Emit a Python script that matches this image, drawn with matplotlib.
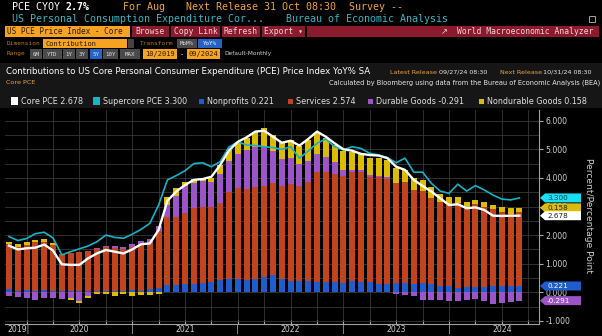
import matplotlib
matplotlib.use('Agg')
import matplotlib.pyplot as plt
import numpy as np
import pandas as pd
from matplotlib.patches import Rectangle, Polygon
from matplotlib.transforms import IdentityTransform, blended_transform_factory
from matplotlib import font_manager

# monthly data, Oct 2019 - Aug 2024 (contributions in percentage points)
months = pd.period_range('2019-10', '2024-08', freq='M')

nonprofits = [0.10, 0.06, 0.07, 0.05, 0.08, 0.06, 0.05, 0.06, 0.05, 0.04, 0.03, 0.03,
              0.03, 0.03, 0.08, 0.05, 0.10, 0.14, 0.26, 0.26, 0.28, 0.29, 0.34, 0.37,
              0.43, 0.47, 0.47, 0.43, 0.47, 0.52, 0.61, 0.47, 0.40, 0.40, 0.41, 0.37,
              0.37, 0.35, 0.31, 0.40, 0.37, 0.35, 0.28, 0.28, 0.31, 0.34, 0.28, 0.34,
              0.29, 0.22, 0.22, 0.16, 0.20, 0.20, 0.20, 0.23, 0.22, 0.23, 0.221]
services = [1.59, 1.54, 1.59, 1.70, 1.69, 1.60, 1.28, 1.33, 1.37, 1.42, 1.49, 1.54,
            1.53, 1.49, 1.52, 1.63, 1.64, 2.00, 2.37, 2.39, 2.51, 2.65, 2.66, 2.62,
            2.70, 3.05, 3.17, 3.17, 3.20, 3.19, 3.21, 3.25, 3.38, 3.30, 3.46, 3.82,
            3.82, 3.78, 3.76, 3.80, 3.85, 3.67, 3.74, 3.69, 3.50, 3.53, 3.30, 3.21,
            3.02, 2.93, 2.86, 2.95, 2.77, 2.88, 2.80, 2.67, 2.60, 2.51, 2.574]
durable = [-0.12, -0.17, -0.21, -0.26, -0.21, -0.21, -0.22, -0.20, -0.29, -0.14, 0.03, 0.05,
           0.06, 0.06, 0.09, 0.10, 0.14, 0.17, 0.43, 0.70, 0.91, 0.87, 0.89, 0.86,
           1.00, 1.08, 1.20, 1.38, 1.40, 1.38, 1.11, 0.93, 0.91, 0.78, 0.73, 0.64,
           0.55, 0.41, 0.21, 0.08, 0.06, 0.08, 0.06, 0.07, -0.05, -0.08, -0.14, -0.27,
           -0.26, -0.27, -0.29, -0.29, -0.26, -0.23, -0.29, -0.41, -0.37, -0.33, -0.291]
nondurable = [0.07, 0.08, 0.09, 0.08, 0.08, 0.08, -0.03, -0.07, -0.08, -0.07, -0.06, -0.06,
              -0.12, -0.06, -0.14, -0.08, -0.08, -0.07, 0.26, 0.29, 0.17, 0.14, 0.09, 0.16,
              0.31, 0.37, 0.43, 0.41, 0.55, 0.66, 0.58, 0.62, 0.64, 0.62, 0.72, 0.75,
              0.64, 0.62, 0.66, 0.61, 0.55, 0.61, 0.61, 0.58, 0.55, 0.41, 0.41, 0.36,
              0.36, 0.28, 0.24, 0.21, 0.20, 0.15, 0.15, 0.17, 0.17, 0.20, 0.158]
core_pce = [1.63, 1.50, 1.54, 1.56, 1.67, 1.46, 0.98, 0.96, 0.96, 1.19, 1.36, 1.48,
            1.42, 1.36, 1.50, 1.68, 1.71, 2.18, 3.20, 3.52, 3.75, 3.93, 3.96, 4.04,
            4.45, 4.96, 5.26, 5.42, 5.62, 5.65, 5.44, 5.23, 5.30, 5.13, 5.36, 5.62,
            5.44, 5.21, 5.00, 4.95, 4.84, 4.80, 4.78, 4.69, 4.39, 4.28, 3.93, 3.72,
            3.52, 3.29, 3.05, 3.08, 2.94, 2.97, 2.88, 2.68, 2.67, 2.68, 2.678]
supercore = [1.95, 1.81, 1.88, 2.05, 2.10, 1.90, 1.31, 1.42, 1.52, 1.62, 1.77, 2.00,
             1.92, 1.89, 2.03, 2.20, 2.41, 3.05, 3.93, 4.08, 4.25, 4.50, 4.53, 4.39,
             4.57, 5.08, 5.26, 5.15, 5.13, 5.09, 5.06, 5.00, 5.09, 4.69, 4.94, 5.21,
             5.36, 5.09, 4.98, 5.09, 5.03, 4.86, 4.80, 4.71, 4.53, 4.69, 4.20, 4.20,
             3.81, 3.54, 3.46, 3.78, 3.54, 3.73, 3.58, 3.40, 3.26, 3.23, 3.300]

C_NP, C_SV, C_DG, C_ND = '#1f5ccc', '#c2441e', '#9b55c9', '#dcbc00'
C_CORE, C_SUPER = 'white', '#17b3c6'
ORANGE, TEAL, BTN = '#eea43a', '#38b6c4', '#8a1a2c'

avail = {f.name for f in font_manager.fontManager.ttflist}
SANS = 'Liberation Sans Narrow' if 'Liberation Sans Narrow' in avail else 'DejaVu Sans'
S = 1.3 if SANS == 'Liberation Sans Narrow' else 1.0
MONO = ['DejaVu Sans Mono', 'DejaVu Sans']

W, H = 602, 336
fig = plt.figure(figsize=(W / 100, H / 100), dpi=100, facecolor='black')


def fx(x):
    return x / W


def fy(y):
    return 1 - y / H


def box(x0, y0, x1, y1, fc, z=-1):
    fig.add_artist(Rectangle((fx(x0), fy(y1)), (x1 - x0) / W, (y1 - y0) / H,
                             transform=fig.transFigure, fc=fc, ec='none', zorder=z))


def txt(x, y, s, c='white', size=5.8, ha='left', fam=None, **kw):
    return fig.text(fx(x), fy(y), s, color=c, fontsize=size, ha=ha, va='center',
                    family=fam or MONO, **kw)


def fit(t, width):
    r = fig.canvas.get_renderer()
    w = t.get_window_extent(r).width
    t.set_fontsize(t.get_fontsize() * width / w)


# ---- terminal header
txt(12, 7, 'PCE CYOY', size=7.2)
txt(66, 7, '2.7%', size=7.2, weight='bold')
txt(123, 7, 'For Aug', ORANGE, 7.2)
txt(186, 7, 'Next Release 31 Oct 08:30', ORANGE, 7.2)
txt(349, 7, 'Survey --', ORANGE, 7.2)
txt(12, 19, 'US Personal Consumption Expenditure Cor...', TEAL, 7.2)
txt(286, 19, 'Bureau of Economic Analysis', TEAL, 7.2)
fig.add_artist(Rectangle((fx(589), fy(22)), 6 / W, 6 / H, transform=fig.transFigure,
                         fc='none', ec='#bbbbbb', lw=0.6))

box(5, 26, 130, 37, '#f5a321')
txt(7, 31.5, 'US PCE Price Index - Core', '#2a1a00', 5.6)
for x0, x1, lab in [(132, 169, 'Browse'), (171, 220, 'Copy Link'),
                    (222, 260, 'Refresh'), (262, 305, 'Export \u25be')]:
    box(x0, 26, x1, 37, BTN)
    txt((x0 + x1) / 2, 31.5, lab, '#f4d4d8', 5.8, ha='center')
box(307, 26, 599, 37, BTN)
txt(441, 31.5, '\u2197', '#f4d4d8', 6, fam=['DejaVu Sans'])
txt(457, 31.5, 'World Macroeconomic Analyzer', '#f4d4d8', 5.8)

txt(7, 43.5, 'Dimension', '#c07a12', 4.4)
box(43, 39, 127, 48, '#f5a321')
txt(45, 43.5, 'Contribution', '#2a1a00', 5.0)
box(128, 39, 134, 48, '#444444')
txt(140, 43.5, 'Transform', '#c07a12', 4.4)
box(177, 39, 197, 48, '#4a4a4a')
txt(187, 43.5, 'MoM%', '#d8d8d8', 4.2, ha='center')
box(198, 39, 222, 48, '#2462c4')
txt(210, 43.5, 'YoY%', 'white', 4.2, ha='center')

txt(7, 54, 'Range', '#c07a12', 4.4)
for x0, x1, lab in [(30, 42, '6M'), (43, 62, 'YTD'), (63, 75, '1Y'), (76, 88, '3Y'),
                    (90, 102, '5Y'), (103, 118, '10Y'), (120, 140, 'MAX')]:
    box(x0, 49.5, x1, 58.5, '#2462c4' if lab == '5Y' else '#4a4a4a')
    txt((x0 + x1) / 2, 54, lab, '#dddddd', 4.2, ha='center')
box(143, 49.5, 177, 58.5, '#f5a321')
txt(160, 54, '10/2019', '#2a1a00', 5.0, ha='center')
txt(182, 54, '-', '#dddddd', 5.0, ha='center')
box(187, 49.5, 220, 58.5, '#f5a321')
txt(203.5, 54, '09/2024', '#2a1a00', 5.0, ha='center')
txt(224, 54, 'Default-Monthly', '#cfcfcf', 4.2, fam=[SANS])

# ---- chart panel
box(0, 63, W, 108, '#161616')
t = txt(6, 72, 'Contributions to US Core Personal Consumer Expenditure (PCE) Price Index YoY% SA',
        'white', 6, fam=[SANS])
fit(t, 369)
txt(390, 72, 'Latest Release', ORANGE, 4.6 * S, fam=[SANS])
txt(439, 72, '09/27/24 08:30', '#e8e8e8', 4.6 * S, fam=[SANS])
txt(500, 72, 'Next Release', ORANGE, 4.6 * S, fam=[SANS])
txt(543, 72, '10/31/24 08:30', '#e8e8e8', 4.6 * S, fam=[SANS])
txt(6, 83, 'Core PCE', ORANGE, 4.6 * S, fam=[SANS])
t = txt(600, 83, 'Calculated by Bloomberg using data from the Bureau of Economic Analysis (BEA)',
        '#e8e8e8', 5, ha='right', fam=[SANS])
fit(t, 271)

legend = [('Core PCE', core_pce, C_CORE, 11, 7), ('Supercore PCE', supercore, C_SUPER, 93, 7),
          ('Nonprofits', nonprofits, C_NP, 199, 5), ('Services', services, C_SV, 288, 5),
          ('Durable Goods', durable, C_DG, 368, 5), ('Nondurable Goods', nondurable, C_ND, 479, 5)]
for name, vals, col, x0, sq in legend:
    box(x0, 101 - sq / 2, x0 + sq, 101 + sq / 2, col, z=1)
    txt(x0 + sq + 3, 101, f'{name} {vals[-1]:.3f}', '#e0e0e0', 5.8 * S, fam=[SANS])

# ---- plot
ax = fig.add_axes([fx(5), fy(324), (539 - 5) / W, (324 - 110) / H])
ax.set_facecolor('black')
n = len(months)
x = np.arange(n)

pos = np.zeros(n)
neg = np.zeros(n)
for vals, col in [(nonprofits, C_NP), (services, C_SV), (durable, C_DG), (nondurable, C_ND)]:
    v = np.array(vals)
    ax.bar(x, v, 0.68, bottom=np.where(v >= 0, pos, neg), color=col, linewidth=0, zorder=2)
    pos = pos + np.clip(v, 0, None)
    neg = neg + np.clip(v, None, 0)

ax.plot(x, supercore, color=C_SUPER, lw=1.2, zorder=3)
ax.plot(x, core_pce, color=C_CORE, lw=1.7, zorder=4)

ax.set_xlim(-0.455, 60.23)
ax.set_ylim(-1.108, 6.374)

quarter_ends = [i for i, m in enumerate(months) if m.month % 3 == 0] + [n]
ax.set_xticks(quarter_ends)
ax.set_xticklabels([])
ax.yaxis.tick_right()
ax.set_yticks(range(-1, 7))
ax.set_yticklabels([f'{v:.3f}' for v in range(-1, 7)], fontsize=5.6 * S, family=SANS,
                   color='#cfcfcf')
ax.set_yticks(np.arange(-1, 6.5, 0.5), minor=True)
ax.tick_params(axis='y', which='major', direction='out', length=3, color='#aaaaaa', pad=1.5)
ax.tick_params(axis='y', which='minor', length=0)
ax.tick_params(axis='x', direction='in', length=3, color='#aaaaaa')
ax.grid(True, which='both', color='#383838', lw=0.6, zorder=0)
ax.set_axisbelow(True)
for side in ['left', 'top']:
    ax.spines[side].set_visible(False)
for side in ['right', 'bottom']:
    ax.spines[side].set_color('#a0a0a0')
    ax.spines[side].set_linewidth(0.8)

# year labels at mid-year, '|' at year ends
trans = blended_transform_factory(ax.transData, ax.transAxes)
ylab = -0.027
for i, m in enumerate(months):
    if m.month == 6:
        ax.text(i, ylab, str(m.year), transform=trans, ha='center', va='center',
                color='#cfcfcf', fontsize=5.6 * S, family=SANS)
    elif m.month == 12 and m.year > 2019:
        ax.text(i, ylab, '|', transform=trans, ha='center', va='center',
                color='#cfcfcf', fontsize=5.6 * S, family=SANS)
    elif m.month == 12:
        ax.text(i + 0.3, ylab, str(m.year) + '|', transform=trans, ha='right', va='center',
                color='#cfcfcf', fontsize=5.6 * S, family=SANS)

fig.text(fx(588), fy(216), 'Percent/Percentage Point', rotation=270, ha='center', va='center',
         color='#cfcfcf', fontsize=6.6 * S, family=SANS)


# ---- last-value tags on the right axis
def tag(v, s, fc, tc):
    yd = ax.transData.transform((0, v))[1]
    x0 = ax.transAxes.transform((1, 0))[0]
    h = 9
    pts = [(x0 + 1, yd), (x0 + 6, yd + h / 2), (x0 + 42, yd + h / 2),
           (x0 + 42, yd - h / 2), (x0 + 6, yd - h / 2)]
    fig.add_artist(Polygon(pts, closed=True, transform=IdentityTransform(), fc=fc, ec='none'))
    fig.text(x0 + 8, yd, s, transform=IdentityTransform(), color=tc, fontsize=5.2 * S,
             family=SANS, va='center', ha='left')


tag(pos[-1], f'{nondurable[-1]:.3f}', C_ND, '#222222')
tag(supercore[-1], f'{supercore[-1]:.3f}', '#16e0f5', '#1a3a40')
tag(core_pce[-1], f'{core_pce[-1]:.3f}', 'white', '#222222')
tag(neg[-1], f'{durable[-1]:.3f}', C_DG, 'white')
tag(nonprofits[-1], f'{nonprofits[-1]:.3f}', C_NP, 'white')

fig.savefig('out.png', dpi=100, facecolor='black')
